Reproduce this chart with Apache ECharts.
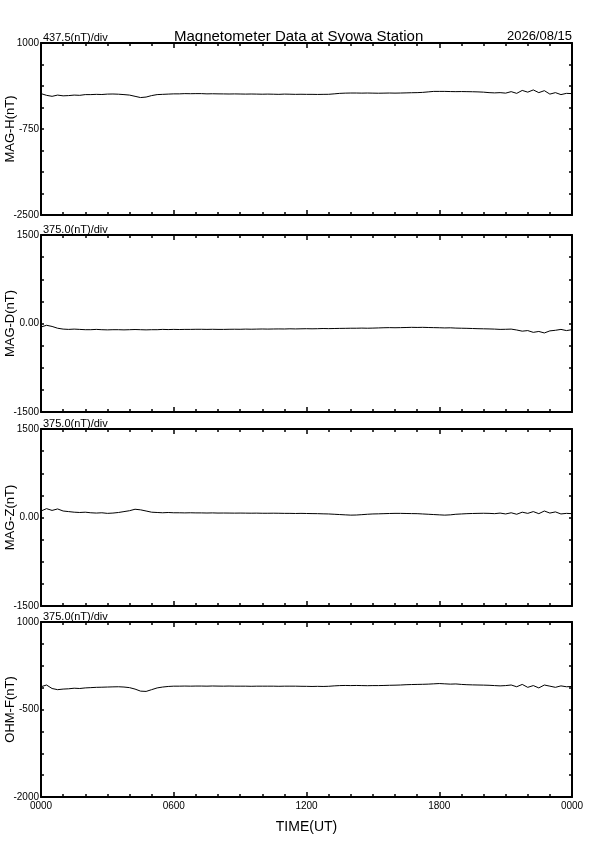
<!DOCTYPE html>
<html><head><meta charset="utf-8">
<script src="https://cdn.jsdelivr.net/npm/echarts@6/dist/echarts.min.js"></script>
<style>html,body{margin:0;padding:0;background:#fff}#c{width:595px;height:842px}</style>
</head><body><div id="c"></div>
<script>
// ---- data ----
const chartTitle = 'Magnetometer Data at Syowa Station';
const dateText = '2026/08/15';
const xAxisName = 'TIME(UT)';
const xTickLabels = ['0000', '0600', '1200', '1800', '0000'];
const panelNames = ['MAG-H(nT)', 'MAG-D(nT)', 'MAG-Z(nT)', 'OHM-F(nT)'];
const scaleTexts = ['437.5(nT)/div', '375.0(nT)/div', '375.0(nT)/div', '375.0(nT)/div'];
const yMins = [-2500, -1500, -1500, -2000];
const yMaxs = [1000, 1500, 1500, 1000];
const yLabelValues = [[-2500, -750, 1000], [-1500, 0, 1500], [-1500, 0, 1500], [-2000, -500, 1000]];
const yLabelTexts = [['-2500', '-750', '1000'], ['-1500', '0.00', '1500'], ['-1500', '0.00', '1500'], ['-2000', '-500', '1000']];

const times = [0,0.25,0.5,0.75,1,1.25,1.5,1.75,2,2.25,2.5,2.75,3,3.25,3.5,3.75,4,4.25,4.5,4.75,5,5.25,5.5,5.75,6,6.25,6.5,6.75,7,7.25,7.5,7.75,8,8.25,8.5,8.75,9,9.25,9.5,9.75,10,10.25,10.5,10.75,11,11.25,11.5,11.75,12,12.25,12.5,12.75,13,13.25,13.5,13.75,14,14.25,14.5,14.75,15,15.25,15.5,15.75,16,16.25,16.5,16.75,17,17.25,17.5,17.75,18,18.25,18.5,18.75,19,19.25,19.5,19.75,20,20.25,20.5,20.75,21,21.25,21.5,21.75,22,22.25,22.5,22.75,23,23.25,23.5,23.75,24];

const magH = [-30,-65,-85,-60,-75, -70,-60,-65,-50, -50,-45,-48,-40, -38,-42,-50,-60, -85,-110,-100,-70, -50,-45,-40,-35,
  -35,-30,-32,-30, -30,-35,-33,-35, -36,-38,-36,-38, -40,-38,-40,-42, -40,-42,-45,-40, -42,-45,-43,-45,
  -45,-47,-45,-44, -35,-25,-20,-18, -18,-20,-18,-20, -22,-20,-18,-20, -18,-15,-12,-10, -5,5,15,15,
  15,12,10,12, 10,8,5,0, -10,-15,-10,-20, 10,-25,35,0, 45,-10,30,-40, -10,-50,-25,-30];

const magD = [-60,-30,-50,-80,-95, -100,-95,-100,-105, -105,-100,-105,-108, -105,-105,-108,-105, -102,-105,-108,-105, -105,-100,-103,-100,
  -102,-100,-100,-98, -98,-100,-98,-100, -100,-98,-97,-98, -95,-97,-95,-93, -95,-93,-92,-93, -90,-92,-90,-88,
  -90,-88,-85,-87, -85,-83,-82,-80, -80,-78,-80,-78, -75,-72,-70,-72, -70,-68,-65,-67, -65,-68,-70,-72,
  -75,-73,-78,-80, -82,-85,-88,-90, -92,-95,-100,-98, -95,-110,-130,-120, -150,-135,-160,-125, -115,-100,-120,-105];

const magZ = [110,150,120,145,110, 100,90,85,90, 80,75,80,70, 75,85,100,115, 140,130,110,90, 85,80,85,80,
  80,78,80,78, 78,76,78,75, 76,75,74,75, 74,73,74,72, 72,73,72,70, 70,68,70,68,
  66,65,62,60, 55,50,45,40, 42,48,55,60, 62,65,68,70, 70,68,66,65, 60,55,50,45,
  40,45,55,60, 65,68,70,72, 70,65,75,60, 80,55,90,70, 100,65,110,75, 95,60,70,65];

const ohmF = [-110,-80,-140,-160,-150, -145,-135,-140,-130, -125,-120,-118,-115, -112,-110,-115,-125, -150,-185,-190,-160, -130,-115,-105,-100,
  -100,-98,-100,-98, -98,-100,-97,-99, -100,-98,-100,-100, -100,-102,-100,-100, -100,-100,-102,-100, -100,-100,-102,-103,
  -105,-103,-105,-102, -95,-90,-88,-90, -88,-90,-92,-90, -90,-88,-85,-83, -80,-75,-72,-70, -68,-65,-60,-55,
  -60,-65,-62,-70, -75,-78,-80,-82, -85,-90,-95,-90, -80,-110,-70,-120, -90,-130,-80,-100, -120,-95,-110,-105];

const seriesValues = [magH, magD, magZ, ohmF];

// ---- layout ----
const FONT = 'Liberation Sans';
const gridTops = [43, 235, 429, 622];
const gridHeights = [172, 177, 177, 175];
const DIVS = 8;

const grids = [], xAxes = [], yAxes = [], series = [], titles = [];
titles.push({ text: chartTitle, left: 174, top: 29, padding: 0,
  textStyle: { fontFamily: FONT, fontSize: 15, fontWeight: 'normal', color: '#000' } });
titles.push({ text: dateText, right: 23, top: 30, padding: 0,
  textStyle: { fontFamily: FONT, fontSize: 13, fontWeight: 'normal', color: '#000' } });

for (let p = 0; p < 4; p++) {
  grids.push({ left: 41, right: 23, top: gridTops[p], height: gridHeights[p],
    containLabel: false, outerBoundsMode: 'none' });
  titles.push({ text: scaleTexts[p], left: 43, top: gridTops[p] - 11, padding: 0,
    textStyle: { fontFamily: FONT, fontSize: 11, fontWeight: 'normal', color: '#000' } });
  const isLast = p === 3;
  const xBase = {
    type: 'value', gridIndex: p, min: 0, max: 24, interval: 6,
    axisLine: { show: true, onZero: false, lineStyle: { color: '#000', width: 2 } },
    axisTick: { show: true, inside: true, length: 5, lineStyle: { color: '#000', width: 1.5 } },
    minorTick: { show: true, splitNumber: 6, length: 3, lineStyle: { color: '#000', width: 1.5 } },
    splitLine: { show: false }, minorSplitLine: { show: false }
  };
  xAxes.push(Object.assign({}, xBase, {
    position: 'bottom',
    axisLabel: { show: isLast, margin: 4, fontFamily: FONT, fontSize: 10, color: '#000',
      formatter: v => xTickLabels[Math.round(v / 6)] },
    name: isLast ? xAxisName : '', nameLocation: 'middle', nameGap: 23, nameMoveOverlap: false,
    nameTextStyle: { fontFamily: FONT, fontSize: 14, color: '#000' }
  }));
  xAxes.push(Object.assign({}, xBase, { position: 'top', axisLabel: { show: false } }));

  const div = (yMaxs[p] - yMins[p]) / DIVS;
  const tickVals = [];
  for (let k = 0; k <= DIVS; k++) tickVals.push(yMins[p] + k * div);
  const yBase = {
    type: 'value', gridIndex: p, min: yMins[p], max: yMaxs[p],
    axisLine: { show: true, onZero: false, lineStyle: { color: '#000', width: 2 } },
    axisTick: { show: true, inside: true, length: 3, customValues: tickVals, lineStyle: { color: '#000', width: 1.5 } },
    splitLine: { show: false }
  };
  const lv = yLabelValues[p], lt = yLabelTexts[p];
  yAxes.push(Object.assign({}, yBase, {
    position: 'left',
    axisLabel: { show: true, customValues: lv, margin: 2, fontFamily: FONT, fontSize: 10, color: '#000',
      formatter: v => lt[lv.indexOf(v)] },
    name: panelNames[p], nameLocation: 'middle', nameGap: 24, nameMoveOverlap: false,
    nameTextStyle: { fontFamily: FONT, fontSize: 13, color: '#000' }
  }));
  yAxes.push(Object.assign({}, yBase, { position: 'right', axisLabel: { show: false } }));

  series.push({
    type: 'line', xAxisIndex: p * 2, yAxisIndex: p * 2, showSymbol: false, symbol: 'none',
    lineStyle: { color: '#000', width: 1 }, silent: true, animation: false,
    data: times.map((t, i) => [t, seriesValues[p][i]])
  });
}

const chart = echarts.init(document.getElementById('c'), null, { renderer: 'canvas' });
chart.setOption({
  animation: false, backgroundColor: '#fff',
  title: titles, grid: grids, xAxis: xAxes, yAxis: yAxes, series: series
});
</script></body></html>
